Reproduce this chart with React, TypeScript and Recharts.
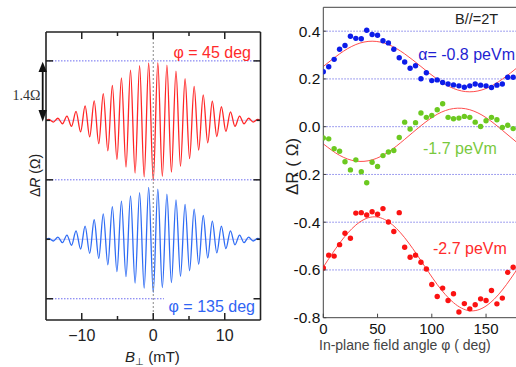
import React from "react";
import { LineChart, Line, XAxis, YAxis, ReferenceLine, ComposedChart, Scatter } from "recharts";

// left panel: extrema of the oscillations vs perpendicular field (mT)
const fieldB = [
  -15, -14.61, -13.97, -13.34, -12.7, -12.07, -11.43, -10.8, -10.16, -9.53, -8.89, -8.26, -7.62,
  -6.99, -6.35, -5.72, -5.08, -4.45, -3.81, -3.18, -2.54, -1.91, -1.27, -0.64, 0,
  0.64, 1.27, 1.91, 2.54, 3.18, 3.81, 4.45, 5.08, 5.72, 6.35, 6.99, 7.62, 8.26, 8.89,
  9.53, 10.16, 10.8, 11.43, 12.07, 12.7, 13.34, 13.97, 14.61, 15,
]
// ΔR (Ω) for phi = 45 deg (drawn shifted up by 2 x 1.4 Ω)
const dR45 = [
  0, 0.02, -0.04, 0.05, -0.08, 0.1, -0.14, 0.21, -0.27, 0.34, -0.39, 0.46, -0.55,
  0.63, -0.72, 0.82, -0.92, 1.0, -1.1, 1.18, -1.24, 1.29, -1.33, 1.35, -1.42,
  1.36, -1.32, 1.3, -1.22, 1.16, -1.08, 0.98, -0.9, 0.8, -0.7, 0.6, -0.53, 0.45, -0.38,
  0.32, -0.26, 0.2, -0.14, 0.1, -0.08, 0.05, -0.04, 0.02, 0,
]
// ΔR (Ω) for phi = 135 deg
const dR135 = [
  0, 0.02, -0.04, 0.05, -0.08, 0.1, -0.14, 0.2, -0.23, 0.31, -0.33, 0.46, -0.45,
  0.6, -0.6, 0.77, -0.76, 0.9, -0.88, 1.02, -1.03, 1.1, -1.15, 1.22, -1.25,
  1.18, -1.14, 1.06, -1.02, 0.93, -0.87, 0.82, -0.74, 0.71, -0.59, 0.56, -0.44, 0.43, -0.32,
  0.31, -0.22, 0.2, -0.13, 0.1, -0.08, 0.05, -0.04, 0.02, 0,
]
const offset45 = 2.8
const fieldTicks = [-10, -5, 0, 5, 10]
const levelTicks = [-1.4, 0, 1.4, 2.8, 4.2]
const majorLevels = [-1.4, 1.4, 4.2]

// right panel: ΔR vs in-plane field angle, B// = 2T
const angles = [
  0, 5, 10, 15, 20, 25, 30, 35, 40, 45, 50, 55, 60, 65, 70, 75, 80, 85, 90,
  95, 100, 105, 110, 115, 120, 125, 130, 135, 140, 145, 150, 155, 160, 165, 170, 175, 180,
]
const alpha08 = [
  0.23, 0.251, 0.282, 0.324, 0.34, 0.379, 0.37, 0.368, 0.404, 0.386, 0.383, 0.36, 0.351, 0.324,
  0.289, 0.271, 0.245, 0.255, 0.201, 0.226, 0.193, 0.196, 0.185, 0.179, 0.175, 0.171, 0.165,
  0.171, 0.179, 0.174, 0.171, 0.164, 0.174, 0.179, 0.207, 0.207, 0.23,
]
const alpha17 = [
  -0.047, -0.051, -0.092, -0.103, -0.147, -0.181, -0.139, -0.189, -0.235, -0.149, -0.167, -0.121,
  -0.106, -0.1, -0.045, 0.019, -0.01, 0.017, 0.057, 0.039, 0.047, 0.071, 0.096, 0.039, 0.033,
  0.036, 0.043, 0.039, 0.019, 0.001, 0.025, 0.039, 0.029, -0.003, 0.006, -0.008, -0.045,
]
const alpha27 = [
  -0.592, -0.538, -0.542, -0.494, -0.446, -0.467, -0.362, -0.36, -0.37, -0.356, -0.367, -0.343,
  -0.399, -0.439, -0.36, -0.505, -0.547, -0.538, -0.568, -0.596, -0.661, -0.711, -0.676, -0.728,
  -0.7, -0.776, -0.741, -0.763, -0.746, -0.721, -0.728, -0.686, -0.742, -0.718, -0.61, -0.589,
]
// fitted curves, read every 15 deg
const fitAngles = [0, 15, 30, 45, 60, 75, 90, 105, 120, 135, 150, 165, 180]
const fit08 = [0.252, 0.305, 0.344, 0.358, 0.344, 0.305, 0.252, 0.199, 0.16, 0.146, 0.16, 0.199, 0.252]
const fit17 = [-0.072, -0.12, -0.144, -0.139, -0.106, -0.053, 0.004, 0.052, 0.076, 0.071, 0.038, -0.015, -0.072]
const fit27 = [-0.588, -0.488, -0.412, -0.378, -0.398, -0.465, -0.561, -0.661, -0.737, -0.771, -0.751, -0.684, -0.588]
const angleTicks = [0, 50, 100, 150]
const drTicks = [-0.8, -0.6, -0.4, -0.2, 0, 0.2, 0.4]
const gridLevels = [-0.6, -0.4, -0.2, 0, 0.2, 0.4]

const font = "'Liberation Sans', Arial, sans-serif"

const pairs = (xs: number[], ys: number[], shift = 0) => ys.map((y, i) => ({ x: xs[i], y: y + shift }))

const redCurve = pairs(fieldB, dR45, offset45)
const blueCurve = pairs(fieldB, dR135)

function BottomTick({ x, y, payload }: any) {
  const v = payload.value
  const major = v % 10 === 0
  return (
    <g>
      <line x1={x} x2={x} y1={y} y2={y - (major ? 7 : 4)} stroke="#222" strokeWidth={1.5} />
      {major && (
        <text x={x} y={y + 21} textAnchor="middle" fontSize={16} fontFamily={font} fill="#222">
          {v < 0 ? `−${-v}` : v}
        </text>
      )}
    </g>
  )
}

function TopTick({ x, y, payload }: any) {
  const major = payload.value % 10 === 0
  return <line x1={x} x2={x} y1={y} y2={y + (major ? 7 : 4)} stroke="#222" strokeWidth={1.5} />
}

function SideTick({ x, y, payload, dir }: any) {
  const major = majorLevels.includes(payload.value)
  return <line x1={x} x2={x + dir * (major ? 7 : 4)} y1={y} y2={y} stroke="#222" strokeWidth={1.5} />
}

function AngleTick({ x, y, payload }: any) {
  return (
    <g>
      <line x1={x} x2={x} y1={y} y2={y - 4} stroke="#444" />
      <text x={x} y={y + 16.5} textAnchor="middle" fontSize={15} fontFamily={font} fill="#111">
        {payload.value}
      </text>
    </g>
  )
}

function DrTick({ x, y, payload }: any) {
  return (
    <g>
      <line x1={x} x2={x + 3} y1={y} y2={y} stroke="#444" />
      <text x={x - 3} y={y + 5.5} textAnchor="end" fontSize={15.5} fontFamily={font} fill="#111">
        {payload.value.toFixed(1)}
      </text>
    </g>
  )
}

const dot = (fill: string) => (p: any) => <circle cx={p.cx} cy={p.cy} r={2.7} fill={fill} />

function FieldPanel() {
  const frame = { stroke: "#222", strokeWidth: 1.6 }
  return (
    <LineChart width={270} height={367} margin={{ top: 31, right: 8.5, bottom: 46, left: 45 }}>
      <XAxis xAxisId="b" type="number" dataKey="x" domain={[-15, 15]} ticks={fieldTicks} interval={0}
        allowDataOverflow height={1} tickSize={0} tickMargin={0} tickLine={false} axisLine={frame} tick={<BottomTick />} />
      <XAxis xAxisId="t" orientation="top" type="number" dataKey="x" domain={[-15, 15]} ticks={fieldTicks} interval={0}
        allowDataOverflow height={1} tickSize={0} tickMargin={0} tickLine={false} axisLine={frame} tick={<TopTick />} />
      <YAxis yAxisId="l" type="number" domain={[-1.9, 4.88]} ticks={levelTicks} interval={0}
        allowDataOverflow width={1} tickSize={0} tickMargin={0} tickLine={false} axisLine={frame} tick={<SideTick dir={1} />} />
      <YAxis yAxisId="r" orientation="right" type="number" domain={[-1.9, 4.88]} ticks={levelTicks} interval={0}
        allowDataOverflow width={1} tickSize={0} tickMargin={0} tickLine={false} axisLine={frame} tick={<SideTick dir={-1} />} />
      <ReferenceLine xAxisId="b" yAxisId="l" y={4.2} stroke="#6c6cf0" strokeDasharray="1.5 1.5" />
      <ReferenceLine xAxisId="b" yAxisId="l" y={1.4} stroke="#6c6cf0" strokeDasharray="1.5 1.5" />
      <ReferenceLine xAxisId="b" yAxisId="l" segment={[{ x: -15, y: -1.4 }, { x: 1.5, y: -1.4 }]} stroke="#6c6cf0" strokeDasharray="1.5 1.5" />
      <ReferenceLine xAxisId="b" yAxisId="l" y={offset45} stroke="#c9c9f2" />
      <ReferenceLine xAxisId="b" yAxisId="l" y={0} stroke="#c9c9f2" />
      <Line xAxisId="b" yAxisId="l" data={redCurve} dataKey="y" type="monotone" stroke="#ff2626"
        strokeWidth={1.3} dot={false} isAnimationActive={false} />
      <Line xAxisId="b" yAxisId="l" data={blueCurve} dataKey="y" type="monotone" stroke="#2f6cf4"
        strokeWidth={1.3} dot={false} isAnimationActive={false} />
      <ReferenceLine xAxisId="b" yAxisId="l" x={0} stroke="#888" strokeDasharray="2 2" />
    </LineChart>
  )
}

function AnglePanel() {
  const axis = { stroke: "#444" }
  const fitStyle = { stroke: "#ff4d4d", strokeWidth: 1 }
  return (
    <ComposedChart width={260} height={367} margin={{ top: 7.3, right: 11.4, bottom: 48.3, left: 13.3 }}>
      <XAxis type="number" dataKey="x" domain={[0, 180]} ticks={angleTicks} interval={0} allowDataOverflow
        height={1} tickSize={0} tickMargin={0} tickLine={false} axisLine={axis} tick={<AngleTick />} />
      <YAxis type="number" dataKey="y" domain={[-0.8, 0.5]} ticks={drTicks} interval={0} allowDataOverflow
        width={40} tickSize={0} tickMargin={0} tickLine={false} axisLine={axis} tick={<DrTick />} />
      {gridLevels.map((v) => (
        <ReferenceLine key={v} y={v} stroke="#8080ea" strokeDasharray="1.5 1.5" />
      ))}
      <ReferenceLine y={0.5} stroke="#444" />
      <Line data={pairs(fitAngles, fit08)} dataKey="y" type="natural" {...fitStyle} dot={false} isAnimationActive={false} />
      <Line data={pairs(fitAngles, fit17)} dataKey="y" type="natural" {...fitStyle} dot={false} isAnimationActive={false} />
      <Line data={pairs(fitAngles, fit27)} dataKey="y" type="natural" {...fitStyle} dot={false} isAnimationActive={false} />
      <Scatter data={pairs(angles, alpha08)} shape={dot("#0c1ce9")} isAnimationActive={false} />
      <Scatter data={pairs(angles, alpha17)} shape={dot("#6cc920")} isAnimationActive={false} />
      <Scatter data={pairs(angles, alpha27)} shape={dot("#fb1212")} isAnimationActive={false} />
    </ComposedChart>
  )
}

export default function App() {
  return (
    <div style={{ position: "fixed", left: 0, top: 0, width: 516, height: 367, overflow: "hidden", background: "#fff" }}>
      <div style={{ position: "absolute", left: 0, top: 0 }}>
        <FieldPanel />
      </div>
      <div style={{ position: "absolute", left: 270, top: 0 }}>
        <AnglePanel />
      </div>
      <svg width={516} height={367} style={{ position: "absolute", left: 0, top: 0, pointerEvents: "none" }} fontFamily={font}>
        <text x={251} y={57.5} textAnchor="end" fontSize={16} fill="#ff2a2a">φ = 45 deg</text>
        <text x={255} y={311.5} textAnchor="end" fontSize={16} fill="#3064f4">φ = 135 deg</text>
        <text x={12.5} y={100} fontSize={14} fontFamily="'Liberation Serif', 'Times New Roman', serif" fill="#333">1.4Ω</text>
        <line x1={42.7} x2={42.7} y1={70} y2={112} stroke="#111" strokeWidth={1.8} />
        <polygon points="42.7,61.7 38.5,72 46.9,72" fill="#111" />
        <polygon points="42.7,121.7 38.5,110 46.9,110" fill="#111" />
        <text x={35} y={175.5} transform="rotate(-90 35 175.5)" textAnchor="middle" dominantBaseline="central" fontSize={14} fill="#222">
          Δ<tspan fontStyle="italic">R</tspan> (Ω)
        </text>
        <text x={125} y={361.5} fontSize={15} fill="#222">
          <tspan fontStyle="italic">B</tspan>
          <tspan fontSize={10} dy={3}>⊥</tspan>
          <tspan dy={-3}> (mT)</tspan>
        </text>
        <text x={455} y={24} fontSize={14.5} fill="#222">B//=2T</text>
        <text x={515} y={59.5} textAnchor="end" fontSize={16} fill="#1f1fd2">α= -0.8 peVm</text>
        <text x={423} y={153.5} fontSize={16} fill="#79c93d">-1.7 peVm</text>
        <text x={433} y={253.5} fontSize={16} fill="#ff2b2b">-2.7 peVm</text>
        <text x={292} y={166.5} transform="rotate(-90 292 166.5)" textAnchor="middle" dominantBaseline="central" fontSize={17} fill="#222">
          ΔR  ( Ω)
        </text>
        <text x={319} y={349.5} fontSize={14} fill="#444">In-plane field angle φ ( deg)</text>
      </svg>
    </div>
  )
}
